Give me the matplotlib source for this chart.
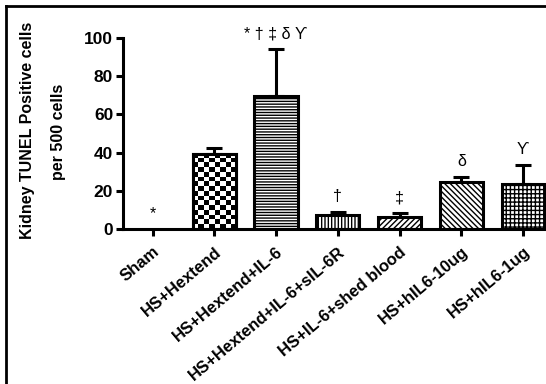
import matplotlib.pyplot as plt
import numpy as np
from matplotlib.patches import Rectangle

plt.rcParams['font.family'] = ['Liberation Sans', 'DejaVu Sans']
plt.rcParams['font.weight'] = 'bold'
plt.rcParams['hatch.linewidth'] = 1.0

# Données
groups = ['Sham', 'HS+Hextend', 'HS+Hextend+IL-6', 'HS+Hextend+IL-6+sIL-6R',
          'HS+IL-6+shed blood', 'HS+hIL6-10ug', 'HS+hIL6-1ug']
means = [0, 39.3, 69.6, 7.3, 6.3, 24.6, 23.6]
errors = [0, 3.1, 24.6, 1.6, 2.1, 2.6, 9.9]
marks = ['*', '', '* \u2020 \u2021 \u03b4 \u03d2', '\u2020', '\u2021', '\u03b4', '\u03d2']
hatches = [None, 'checker', '------', '|||||', '//////', '\\\\\\\\\\\\', '++++']
yticks = [0, 20, 40, 60, 80, 100]

fig = plt.figure(figsize=(5.46, 3.84), dpi=100)
ax = fig.add_axes([0.225, 0.404, 0.775, 0.497])

x = np.arange(len(groups))
lw = 2.2
for i, (m, e, h) in enumerate(zip(means, errors, hatches)):
    if m <= 0:
        continue
    hatch = None if h == 'checker' else h
    bar = ax.bar(x[i], m, width=0.7, color='white', edgecolor='black',
                 linewidth=lw, hatch=hatch, zorder=2)[0]
    if h == 'checker':
        # damier dessiné par une image découpée sur la barre
        checker = np.indices((16, 8)).sum(axis=0) % 2
        im = ax.imshow(checker, cmap='gray', interpolation='nearest',
                       extent=(bar.get_x(), bar.get_x() + bar.get_width(), 0, bar.get_height()),
                       aspect='auto', zorder=2)
        im.set_clip_path(bar)
        ax.add_patch(Rectangle((bar.get_x(), 0), bar.get_width(), bar.get_height(),
                               fill=False, edgecolor='black', linewidth=lw, zorder=3))
    ax.errorbar(x[i], m, yerr=[[0], [e]], fmt='none', ecolor='black',
                elinewidth=lw, capsize=6, capthick=lw, zorder=1)

for i, t in enumerate(marks):
    if t:
        top = means[i] + errors[i]
        ax.text(x[i], top + 4, t, ha='center', va='bottom', fontsize=11.5,
                fontweight='normal')

ax.set_xlim(-0.48, 6.37)
ax.set_ylim(0, 100)
ax.set_yticks(yticks)
ax.set_yticklabels([str(v) for v in yticks], fontsize=12.5, fontweight='bold')
ax.set_xticks(x)
ax.set_xticklabels(groups, rotation=40, ha='right', rotation_mode='anchor',
                   fontsize=12, fontweight='bold')
ax.tick_params(axis='both', width=lw, length=5, direction='out')
ax.tick_params(axis='x', pad=6)
ax.tick_params(axis='y', pad=2)
for s in ['top', 'right']:
    ax.spines[s].set_visible(False)
for s in ['left', 'bottom']:
    ax.spines[s].set_linewidth(lw)

fig.text(28 / 546, 1 - 130 / 384, 'Kidney TUNEL Positive cells', rotation=90,
         ha='center', va='center', fontsize=11.5, fontweight='bold')
fig.text(58 / 546, 1 - 132 / 384, 'per 500 cells', rotation=90,
         ha='center', va='center', fontsize=11.5, fontweight='bold')

# cadre autour de la figure (gauche et haut visibles)
fig.add_artist(plt.Line2D([6 / 546, 6 / 546], [0, 1 - 6 / 384], color='black', linewidth=2))
fig.add_artist(plt.Line2D([6 / 546, 1], [1 - 6 / 384, 1 - 6 / 384], color='black', linewidth=2))

fig.savefig('out.png', dpi=100)
